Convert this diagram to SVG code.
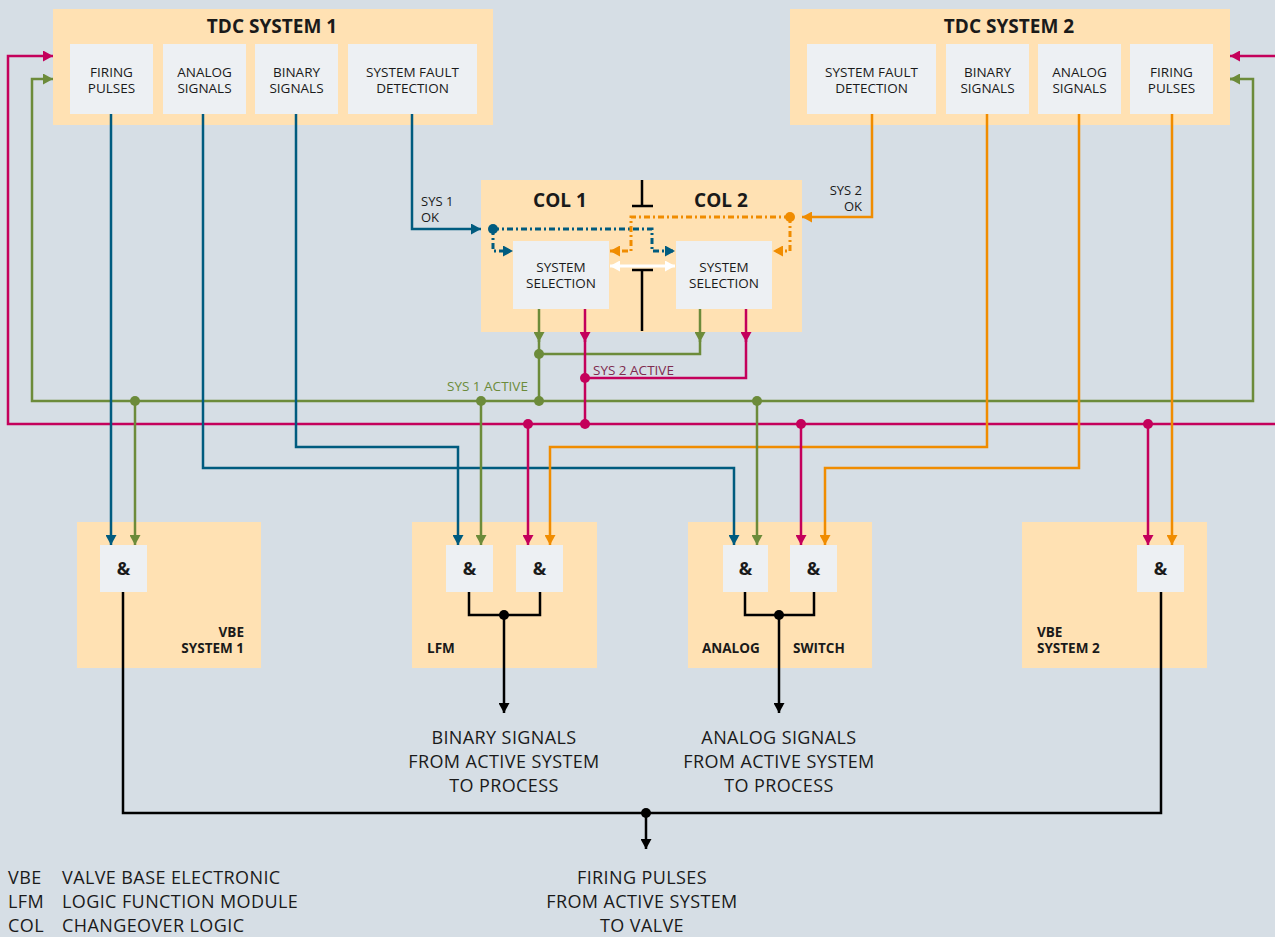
<svg xmlns="http://www.w3.org/2000/svg" width="1275" height="937" viewBox="0 0 1275 937">
<style>
text{font-family:"Open Sans","Noto Sans","Liberation Sans",sans-serif;fill:#1a1a1a}
.box{fill:#ffe1b3}
.sub{fill:#edf0f3}
.t{font-size:13.5px;text-anchor:middle}
.ttl{font-size:19px;font-weight:bold;text-anchor:middle}
.amp{font-size:18px;font-weight:bold;text-anchor:middle}
.lbl{font-size:13.5px;font-weight:bold}
.big{font-size:18px;letter-spacing:0.4px;text-anchor:middle}
.leg{font-size:18px;letter-spacing:0.4px}
.ln{fill:none;stroke-width:2.5}
.dot{fill:none;stroke-width:3;stroke-dasharray:6 3 2 3}
.b{stroke:#005b7f}.g{stroke:#6c8b3a}.r{stroke:#c4005b}.o{stroke:#f08c00}.k{stroke:#000}
</style>
<defs>
<marker id="ab" markerUnits="userSpaceOnUse" markerWidth="11" markerHeight="11" refX="10" refY="5.5" orient="auto"><path d="M0,0 L10,5.5 L0,11 z" fill="#005b7f"/></marker>
<marker id="ag" markerUnits="userSpaceOnUse" markerWidth="11" markerHeight="11" refX="10" refY="5.5" orient="auto"><path d="M0,0 L10,5.5 L0,11 z" fill="#6c8b3a"/></marker>
<marker id="ar" markerUnits="userSpaceOnUse" markerWidth="11" markerHeight="11" refX="10" refY="5.5" orient="auto"><path d="M0,0 L10,5.5 L0,11 z" fill="#c4005b"/></marker>
<marker id="ao" markerUnits="userSpaceOnUse" markerWidth="11" markerHeight="11" refX="10" refY="5.5" orient="auto"><path d="M0,0 L10,5.5 L0,11 z" fill="#f08c00"/></marker>
<marker id="ak" markerUnits="userSpaceOnUse" markerWidth="11" markerHeight="11" refX="10" refY="5.5" orient="auto"><path d="M0,0 L10,5.5 L0,11 z" fill="#000"/></marker>
<marker id="aw" markerUnits="userSpaceOnUse" markerWidth="11" markerHeight="11" refX="10" refY="5.5" orient="auto-start-reverse"><path d="M0,0 L10,5.5 L0,11 z" fill="#fff"/></marker>
</defs>
<rect width="1275" height="937" fill="#d6dee5"/>

<g id="tdc1">
<rect class="box" x="53" y="9" width="440" height="116"/>
<text class="ttl" x="272" y="33">TDC SYSTEM 1</text>
<rect class="sub" x="70" y="44" width="83" height="70"/>
<text class="t" x="111.5" y="77">FIRING</text><text class="t" x="111.5" y="93">PULSES</text>
<rect class="sub" x="163" y="44" width="83" height="70"/>
<text class="t" x="204.5" y="77">ANALOG</text><text class="t" x="204.5" y="93">SIGNALS</text>
<rect class="sub" x="255" y="44" width="83" height="70"/>
<text class="t" x="296.5" y="77">BINARY</text><text class="t" x="296.5" y="93">SIGNALS</text>
<rect class="sub" x="348" y="44" width="129" height="70"/>
<text class="t" x="412.5" y="77">SYSTEM FAULT</text><text class="t" x="412.5" y="93">DETECTION</text>
</g>

<g id="tdc2">
<rect class="box" x="790" y="9" width="440" height="116"/>
<text class="ttl" x="1009" y="33">TDC SYSTEM 2</text>
<rect class="sub" x="807" y="44" width="129" height="70"/>
<text class="t" x="871.5" y="77">SYSTEM FAULT</text><text class="t" x="871.5" y="93">DETECTION</text>
<rect class="sub" x="946" y="44" width="83" height="70"/>
<text class="t" x="987.5" y="77">BINARY</text><text class="t" x="987.5" y="93">SIGNALS</text>
<rect class="sub" x="1038" y="44" width="83" height="70"/>
<text class="t" x="1079.5" y="77">ANALOG</text><text class="t" x="1079.5" y="93">SIGNALS</text>
<rect class="sub" x="1130" y="44" width="83" height="70"/>
<text class="t" x="1171.5" y="77">FIRING</text><text class="t" x="1171.5" y="93">PULSES</text>
</g>

<g id="col">
<rect class="box" x="481" y="180" width="321" height="152"/>
<text class="ttl" x="560" y="207">COL 1</text>
<text class="ttl" x="721" y="207">COL 2</text>
<path d="M642,180 V206 M632,206 H653 M632,270 H653 M642,270 V331" stroke="#000" stroke-width="2.5" fill="none"/>
<rect class="sub" x="513" y="241" width="96" height="68"/>
<text class="t" x="561" y="272">SYSTEM</text><text class="t" x="561" y="288">SELECTION</text>
<rect class="sub" x="676" y="241" width="96" height="68"/>
<text class="t" x="724" y="272">SYSTEM</text><text class="t" x="724" y="288">SELECTION</text>
</g>

<g id="vbe1">
<rect class="box" x="77" y="522" width="184" height="146"/>
<rect class="sub" x="100" y="545" width="47" height="47"/>
<text class="amp" x="123.5" y="575">&amp;</text>
<text class="lbl" x="244" y="637" text-anchor="end">VBE</text>
<text class="lbl" x="244" y="653" text-anchor="end">SYSTEM 1</text>
</g>

<g id="lfm">
<rect class="box" x="412" y="522" width="185" height="146"/>
<rect class="sub" x="446" y="545" width="47" height="47"/>
<text class="amp" x="469.5" y="575">&amp;</text>
<rect class="sub" x="516" y="545" width="47" height="47"/>
<text class="amp" x="539.5" y="575">&amp;</text>
<text class="lbl" x="427" y="653">LFM</text>
</g>

<g id="analogswitch">
<rect class="box" x="688" y="522" width="184" height="146"/>
<rect class="sub" x="723" y="545" width="45" height="47"/>
<text class="amp" x="745.5" y="575">&amp;</text>
<rect class="sub" x="790" y="545" width="47" height="47"/>
<text class="amp" x="813.5" y="575">&amp;</text>
<text class="lbl" x="702" y="653">ANALOG</text>
<text class="lbl" x="793" y="653">SWITCH</text>
</g>

<g id="vbe2">
<rect class="box" x="1022" y="522" width="185" height="146"/>
<rect class="sub" x="1137" y="545" width="47" height="47"/>
<text class="amp" x="1160.5" y="575">&amp;</text>
<text class="lbl" x="1037" y="637">VBE</text>
<text class="lbl" x="1037" y="653">SYSTEM 2</text>
</g>

<g id="connectors">
<path class="ln r" d="M1275,424 H8 V56 H53" marker-end="url(#ar)"/>
<path class="ln r" d="M1275,56 H1230" marker-end="url(#ar)"/>
<path class="ln g" d="M1230,79 H1253 V401 H32 V79 H53" marker-end="url(#ag)"/>
<path class="ln g" d="M1240,79 H1230" marker-end="url(#ag)"/>
<path class="ln b" d="M111,114 V545" marker-end="url(#ab)"/>
<path class="ln b" d="M203,114 V468 H734 V545" marker-end="url(#ab)"/>
<path class="ln b" d="M296,114 V447 H458 V545" marker-end="url(#ab)"/>
<path class="ln b" d="M412,114 V229 H481" marker-end="url(#ab)"/>
<path class="ln o" d="M872,114 V217 H802" marker-end="url(#ao)"/>
<path class="ln o" d="M987,114 V447 H550 V545" marker-end="url(#ao)"/>
<path class="ln o" d="M1079,114 V468 H825 V545" marker-end="url(#ao)"/>
<path class="ln o" d="M1172,114 V545" marker-end="url(#ao)"/>
<path class="ln g" d="M135,401 V545" marker-end="url(#ag)"/>
<path class="ln g" d="M481,401 V545" marker-end="url(#ag)"/>
<path class="ln g" d="M757,401 V545" marker-end="url(#ag)"/>
<path class="ln r" d="M528,424 V545" marker-end="url(#ar)"/>
<path class="ln r" d="M801,424 V545" marker-end="url(#ar)"/>
<path class="ln r" d="M1148,424 V545" marker-end="url(#ar)"/>
<path class="ln g" d="M539,309 V342" marker-end="url(#ag)"/>
<path class="ln g" d="M539,340 V401"/>
<path class="ln g" d="M700,309 V342" marker-end="url(#ag)"/>
<path class="ln g" d="M700,340 V354 H539"/>
<path class="ln r" d="M585,309 V342" marker-end="url(#ar)"/>
<path class="ln r" d="M585,340 V424"/>
<path class="ln r" d="M746,309 V342" marker-end="url(#ar)"/>
<path class="ln r" d="M746,340 V378 H585"/>
<path class="dot b" d="M493,229 H652 V251 H675" marker-end="url(#ab)"/>
<path class="dot b" d="M493,229 V251 H513" marker-end="url(#ab)"/>
<path class="dot o" d="M790,217 H631 V251 H610" marker-end="url(#ao)"/>
<path class="dot o" d="M790,217 V251 H773" marker-end="url(#ao)"/>
<path d="M610,266 H675" stroke="#fff" stroke-width="3" fill="none" marker-start="url(#aw)" marker-end="url(#aw)"/>
<path class="ln k" d="M469,592 V615 H540 V592"/>
<path class="ln k" d="M504,615 V713" marker-end="url(#ak)"/>
<path class="ln k" d="M745,592 V615 H814 V592"/>
<path class="ln k" d="M779,615 V713" marker-end="url(#ak)"/>
<path class="ln k" d="M123,592 V813 H1161 V592"/>
<path class="ln k" d="M646,813 V849" marker-end="url(#ak)"/>
<g fill="#005b7f"><circle cx="493" cy="229" r="5"/></g>
<g fill="#f08c00"><circle cx="790" cy="217" r="5"/></g>
<g fill="#6c8b3a"><circle cx="539" cy="354" r="5"/><circle cx="539" cy="401" r="5"/><circle cx="135" cy="401" r="5"/><circle cx="481" cy="401" r="5"/><circle cx="757" cy="401" r="5"/></g>
<g fill="#c4005b"><circle cx="585" cy="378" r="5"/><circle cx="585" cy="424" r="5"/><circle cx="528" cy="424" r="5"/><circle cx="801" cy="424" r="5"/><circle cx="1148" cy="424" r="5"/></g>
<g fill="#000"><circle cx="504" cy="615" r="5"/><circle cx="779" cy="615" r="5"/><circle cx="646" cy="813" r="5"/></g>
</g>

<g id="labels">
<text font-size="13" x="421" y="206">SYS 1</text>
<text font-size="13" x="421" y="222">OK</text>
<text font-size="13" x="862" y="195" text-anchor="end">SYS 2</text>
<text font-size="13" x="862" y="211" text-anchor="end">OK</text>
<text font-size="13.5" x="447" y="391" style="fill:#6c8b3a">SYS 1 ACTIVE</text>
<text font-size="13.5" x="593" y="375" style="fill:#7f2a4f">SYS 2 ACTIVE</text>
<text class="big" x="504" y="744">BINARY SIGNALS</text>
<text class="big" x="504" y="768">FROM ACTIVE SYSTEM</text>
<text class="big" x="504" y="792">TO PROCESS</text>
<text class="big" x="779" y="744">ANALOG SIGNALS</text>
<text class="big" x="779" y="768">FROM ACTIVE SYSTEM</text>
<text class="big" x="779" y="792">TO PROCESS</text>
<text class="big" x="642" y="884">FIRING PULSES</text>
<text class="big" x="642" y="908">FROM ACTIVE SYSTEM</text>
<text class="big" x="642" y="932">TO VALVE</text>
<text class="leg" x="8" y="884">VBE</text><text class="leg" x="62" y="884">VALVE BASE ELECTRONIC</text>
<text class="leg" x="8" y="908">LFM</text><text class="leg" x="62" y="908">LOGIC FUNCTION MODULE</text>
<text class="leg" x="8" y="932">COL</text><text class="leg" x="62" y="932">CHANGEOVER LOGIC</text>
</g>
</svg>
